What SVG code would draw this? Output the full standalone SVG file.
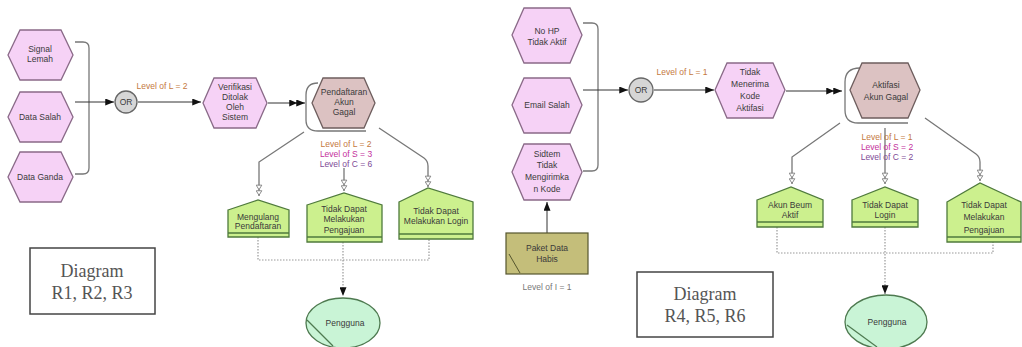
<svg xmlns="http://www.w3.org/2000/svg" width="1022" height="347" viewBox="0 0 1022 347">
<style>
.fn{fill:#f6d2f6;stroke:#8a6a88;stroke-width:1.3}
.ev{fill:#dcc2c2;stroke:#6e5e5e;stroke-width:1.3}
.hs{fill:#ccf08e;stroke:#4f7a3c;stroke-width:1.3}
.el{fill:#c9f4d6;stroke:#4e7a50;stroke-width:1.3}
.pk{fill:#c4be7a;stroke:#55552e;stroke-width:1.2}
.orc{fill:#d6d6d6;stroke:#666;stroke-width:1.3}
.t{font-family:"Liberation Sans",Arial,sans-serif;font-size:8.5px;fill:#3a3a3a;text-anchor:middle}
.lv{font-family:"Liberation Sans",Arial,sans-serif;font-size:8.5px;text-anchor:middle}
.cL{fill:#c4783e}.cS{fill:#c4309c}.cC{fill:#7e4a96}.cI{fill:#777}
.br{fill:none;stroke:#777;stroke-width:1.3}
.ar{fill:none;stroke:#333;stroke-width:1}
.dot{fill:none;stroke:#999;stroke-width:1.2;stroke-dasharray:1.5 1.5}
.lb{fill:#fff;stroke:#444;stroke-width:1.5}
.cap{font-family:"Liberation Serif","Times New Roman",serif;font-size:18px;fill:#555;text-anchor:middle}
</style>
<defs>
<marker id="ah" viewBox="0 0 10 8" refX="10" refY="4" markerWidth="9" markerHeight="7" markerUnits="userSpaceOnUse" orient="auto"><path d="M0,0 L10,4 L0,8 z" fill="#111"/></marker>
<marker id="ah2" viewBox="0 0 18 8" refX="18" refY="4" markerWidth="17" markerHeight="7" markerUnits="userSpaceOnUse" orient="auto"><path d="M0,0 L9,4 L0,8 z M8,0 L18,4 L8,8 z" fill="#111"/></marker>
<marker id="pin" viewBox="0 0 16 10" refX="16" refY="5" markerWidth="14" markerHeight="7" markerUnits="userSpaceOnUse" orient="auto"><path d="M0.5,1 L0.5,9 L7,5 z M8.5,1 L8.5,9 L15,5 z" fill="#fff" stroke="#777" stroke-width="1.2"/></marker>
</defs>

<g id="connectors">
<path class="br" d="M75,42 L83,42 Q89,42 89,48 L89,168 Q89,174 83,174 L75,174"/>
<path class="ar" d="M75,102 L114,102" marker-end="url(#ah)"/>
<path class="ar" d="M138,102 L201,102" marker-end="url(#ah)"/>
<path class="ar" d="M268,103 L305,103" marker-end="url(#ah2)"/>
<path class="br" d="M304,132 L259,162 L259,196" marker-end="url(#pin)"/>
<path class="br" d="M344,168 L344,191" marker-end="url(#pin)"/>
<path class="br" d="M379,128 L424,158 Q428,161 428,166 L428,187" marker-end="url(#pin)"/>
<path class="dot" d="M258,237 L258,260 L429,260 L429,239"/>
<path class="dot" d="M343,242 L343,296" marker-end="url(#ah)"/>
<path class="br" d="M583,23 L592,23 Q598,23 598,29 L598,165 Q598,171 592,171 L583,171"/>
<path class="ar" d="M583,90 L628,90" marker-end="url(#ah)"/>
<path class="ar" d="M654,90 L714,90" marker-end="url(#ah)"/>
<path class="ar" d="M786,91 L842,91" marker-end="url(#ah2)"/>
<path class="ar" d="M547,233 L547,202" marker-end="url(#ah)"/>
<path class="br" d="M840,123 L792,157 L792,184" marker-end="url(#pin)"/>
<path class="br" d="M885,128 L885,184" marker-end="url(#pin)"/>
<path class="br" d="M925,118 L976,154 Q980,157 980,162 L980,181" marker-end="url(#pin)"/>
<path class="dot" d="M777,227 L777,253 L993,253 L993,242"/>
<path class="dot" d="M885,227 L885,294" marker-end="url(#ah)"/>
</g>

<g id="signal-lemah"><polygon class="fn" points="8,55 20,30 61,30 73,55 61,80 20,80"/><text class="t" x="40" y="52">Signal</text><text class="t" x="40" y="62">Lemah</text></g>
<g id="data-salah"><polygon class="fn" points="8,117 20,92 61,92 73,117 61,142 20,142"/><text class="t" x="40" y="120">Data Salah</text></g>
<g id="data-ganda"><polygon class="fn" points="8,177 20,152 61,152 73,177 61,202 20,202"/><text class="t" x="40" y="180">Data Ganda</text></g>

<g id="or-1"><circle class="orc" cx="126" cy="102" r="11"/><text class="t" x="126" y="105">OR</text></g>
<text class="lv cL" x="162" y="89">Level of L = 2</text>

<g id="verifikasi"><polygon class="fn" points="203,103 214,78 256,78 267,103 256,128 214,128"/><text class="t" x="235" y="90">Verifikasi</text><text class="t" x="235" y="100">Ditolak</text><text class="t" x="235" y="110">Oleh</text><text class="t" x="235" y="120">Sistem</text></g>

<g id="pendaftaran-gagal"><path class="br" d="M318,83 Q306,83 306,95 L306,120 Q306,131 318,131 L366,131" stroke="#666"/><polygon class="ev" points="312,103 323,78 364,78 375,103 364,128 323,128"/><text class="t" x="344" y="95">Pendaftaran</text><text class="t" x="344" y="105">Akun</text><text class="t" x="344" y="115">Gagal</text></g>
<text class="lv cL" x="346" y="147">Level of L = 2</text>
<text class="lv cS" x="346" y="157">Level of S = 3</text>
<text class="lv cC" x="346" y="167">Level of C = 6</text>

<g id="mengulang"><polygon class="hs" points="228,210 258,200 289,210 289,237 228,237"/><line class="hs" x1="228" y1="233" x2="289" y2="233"/><text class="t" x="258" y="220">Mengulang</text><text class="t" x="258" y="229">Pendaftaran</text></g>
<g id="tidak-pengajuan-1"><polygon class="hs" points="307,205 344,193 382,205 382,242 307,242"/><line class="hs" x1="307" y1="237" x2="382" y2="237"/><text class="t" x="344" y="212">Tidak Dapat</text><text class="t" x="344" y="222">Melakukan</text><text class="t" x="344" y="233">Pengajuan</text></g>
<g id="tidak-login-1"><polygon class="hs" points="399,202 428,188 473,202 473,239 399,239"/><line class="hs" x1="399" y1="234" x2="473" y2="234"/><text class="t" x="436" y="214">Tidak Dapat</text><text class="t" x="436" y="224">Melakukan Login</text></g>
<g id="pengguna-1"><ellipse class="el" cx="343" cy="323" rx="37" ry="25"/><line x1="307" y1="320" x2="333" y2="346" stroke="#4e7a50" stroke-width="1.2"/><text class="t" x="345" y="326">Pengguna</text></g>

<g id="label-1"><rect class="lb" x="30" y="248" width="125" height="66"/><text class="cap" x="92" y="277">Diagram</text><text class="cap" x="92" y="299">R1, R2, R3</text></g>

<g id="no-hp"><polygon class="fn" points="512,35 524,8 570,8 582,35 570,63 524,63"/><text class="t" x="547" y="34">No HP</text><text class="t" x="547" y="45">Tidak Aktif</text></g>
<g id="email-salah"><polygon class="fn" points="512,105 524,78 570,78 582,105 570,133 524,133"/><text class="t" x="547" y="108">Email Salah</text></g>
<g id="sidtem"><polygon class="fn" points="512,172 524,144 570,144 582,172 570,200 524,200"/><text class="t" x="547" y="157">Sidtem</text><text class="t" x="547" y="168">Tidak</text><text class="t" x="547" y="180">Mengirimka</text><text class="t" x="547" y="192">n Kode</text></g>
<g id="paket-data"><rect class="pk" x="506" y="233" width="82" height="41"/><line x1="509" y1="254" x2="520" y2="273" stroke="#55552e" stroke-width="1"/><text class="t" x="547" y="251">Paket Data</text><text class="t" x="547" y="262">Habis</text></g>
<text class="lv cI" x="547" y="290">Level of I = 1</text>

<g id="or-2"><circle class="orc" cx="641" cy="90" r="12"/><text class="t" x="641" y="93">OR</text></g>
<text class="lv cL" x="682" y="75">Level of L = 1</text>

<g id="tidak-menerima"><polygon class="fn" points="715,90 727,63 773,63 785,90 773,118 727,118"/><text class="t" x="750" y="75">Tidak</text><text class="t" x="750" y="87">Menerima</text><text class="t" x="750" y="99">Kode</text><text class="t" x="750" y="111">Aktifasi</text></g>

<g id="aktifasi-gagal"><path class="br" d="M860,68 Q845,68 845,82 L845,110 Q845,123 858,123 L908,123" stroke="#666"/><polygon class="ev" points="850,90 862,63 908,63 920,90 908,118 862,118"/><text class="t" x="886" y="88">Aktifasi</text><text class="t" x="886" y="100">Akun Gagal</text></g>
<text class="lv cL" x="887" y="140">Level of L = 1</text>
<text class="lv cS" x="887" y="150">Level of S = 2</text>
<text class="lv cC" x="887" y="160">Level of C = 2</text>

<g id="akun-belum"><polygon class="hs" points="757,200 791,187 823,200 823,227 757,227"/><line class="hs" x1="757" y1="222" x2="823" y2="222"/><text class="t" x="790" y="208">Akun Beum</text><text class="t" x="790" y="218">Aktif</text></g>
<g id="tidak-login-2"><polygon class="hs" points="852,200 885,187 918,200 918,227 852,227"/><line class="hs" x1="852" y1="222" x2="918" y2="222"/><text class="t" x="885" y="208">Tidak Dapat</text><text class="t" x="885" y="218">Login</text></g>
<g id="tidak-pengajuan-2"><polygon class="hs" points="947,202 980,183 1021,202 1021,242 947,242"/><line class="hs" x1="947" y1="237" x2="1021" y2="237"/><text class="t" x="984" y="208">Tidak Dapat</text><text class="t" x="984" y="220">Melakukan</text><text class="t" x="984" y="233">Pengajuan</text></g>
<g id="pengguna-2"><ellipse class="el" cx="886" cy="322" rx="41" ry="27"/><line x1="847" y1="325" x2="877" y2="347" stroke="#4e7a50" stroke-width="1.2"/><text class="t" x="887" y="325">Pengguna</text></g>

<g id="label-2"><rect class="lb" x="637" y="272" width="136" height="65"/><text class="cap" x="705" y="300">Diagram</text><text class="cap" x="705" y="322">R4, R5, R6</text></g>
</svg>
